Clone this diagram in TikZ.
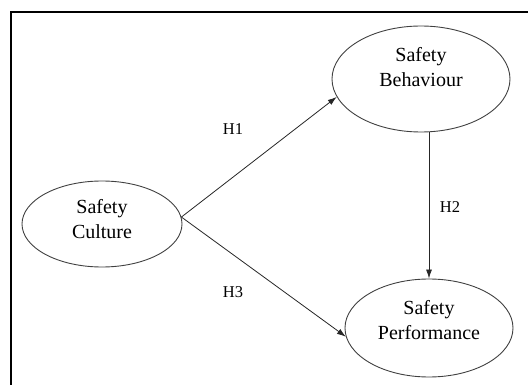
\documentclass[tikz,border=0pt]{standalone}
\usepackage{fontspec}
\setmainfont{Liberation Serif}
\usetikzlibrary{shapes.geometric,arrows.meta}
\newcommand{\liftlbl}[2]{\raisebox{#1}[\height][\depth]{\begin{tabular}{@{}c@{}}#2\end{tabular}}}
\begin{document}
\begin{tikzpicture}[x=1pt,y=-1pt,
  construct/.style={ellipse,draw=black!75,line width=0.9pt,inner sep=0pt,
    font=\fontsize{20}{25}\selectfont},
  link/.style={draw=black!85,line width=0.8pt,-{Latex[length=9pt,width=6pt]}},
  hyp/.style={font=\fontsize{16.5}{18}\selectfont,inner sep=0pt}]
\useasboundingbox (0,0) rectangle (528,385);
\draw[line width=2pt] (11,385) -- (11,12) -- (528,12);
\node[construct,minimum width=160pt,minimum height=86pt] (C) at (102,224) {\liftlbl{3pt}{Safety\\Culture}};
\node[construct,minimum width=178pt,minimum height=106pt] (B) at (421,79) {\liftlbl{10pt}{Safety\\Behaviour}};
\node[construct,minimum width=168pt,minimum height=98pt] (P) at (429,328) {\liftlbl{6pt}{Safety\\Performance}};
\draw[link] (C.5) -- (B.192);
\draw[link] (C.5) -- (P.186);
\draw[link] (B.south -| P.north) -- (P.north);
\node[hyp] (h1) at (233,129) {H1};
\node[hyp] (h2) at (450,207) {H2};
\node[hyp] (h3) at (233,292) {H3};
\end{tikzpicture}
\end{document}
